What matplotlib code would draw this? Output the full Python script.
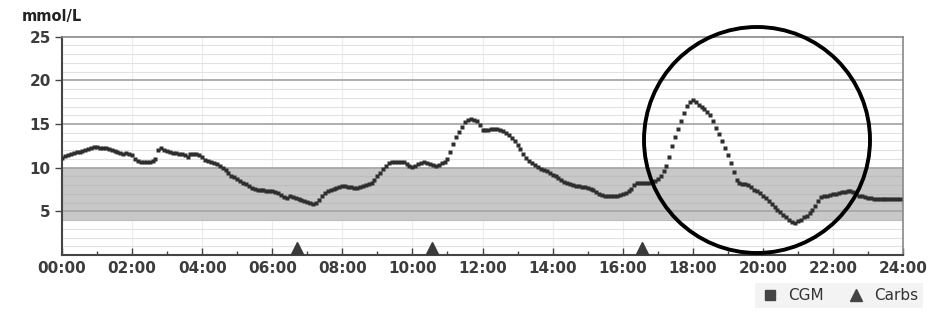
import matplotlib
matplotlib.use("Agg")
import matplotlib.pyplot as plt
import numpy as np
from matplotlib.patches import Ellipse
from matplotlib.lines import Line2D

# CGM readings every 5 minutes, one row per hour (mmol/L)
cgm_by_hour = [
    [11.1, 11.3, 11.4, 11.6, 11.7, 11.8, 11.8, 11.9, 12.0, 12.1, 12.3, 12.4],
    [12.4, 12.3, 12.3, 12.2, 12.1, 12.0, 11.9, 11.8, 11.7, 11.6, 11.7, 11.6],
    [11.4, 11.0, 10.8, 10.7, 10.7, 10.6, 10.7, 10.8, 11.0, 12.0, 12.2, 12.0],
    [11.9, 11.8, 11.7, 11.7, 11.6, 11.6, 11.5, 11.2, 11.6, 11.6, 11.6, 11.5],
    [11.2, 10.9, 10.8, 10.6, 10.5, 10.4, 10.2, 10.0, 9.7, 9.4, 9.1, 8.9],
    [8.7, 8.5, 8.3, 8.1, 7.9, 7.7, 7.6, 7.5, 7.4, 7.4, 7.3, 7.3],
    [7.3, 7.2, 7.1, 6.9, 6.6, 6.5, 6.7, 6.6, 6.5, 6.4, 6.3, 6.2],
    [6.1, 6.0, 5.8, 5.9, 6.3, 6.7, 7.1, 7.3, 7.5, 7.6, 7.7, 7.8],
    [7.9, 7.9, 7.8, 7.8, 7.7, 7.7, 7.8, 7.9, 8.0, 8.1, 8.3, 8.6],
    [9.0, 9.4, 9.8, 10.2, 10.5, 10.6, 10.7, 10.7, 10.7, 10.6, 10.4, 10.2],
    [10.1, 10.2, 10.4, 10.5, 10.6, 10.5, 10.4, 10.3, 10.2, 10.3, 10.5, 10.6],
    [11.0, 11.8, 12.7, 13.5, 14.1, 14.7, 15.2, 15.5, 15.6, 15.5, 15.3, 14.9],
    [14.3, 14.3, 14.3, 14.4, 14.4, 14.4, 14.3, 14.2, 14.0, 13.7, 13.4, 13.0],
    [12.6, 12.1, 11.6, 11.1, 10.8, 10.5, 10.3, 10.1, 9.9, 9.7, 9.6, 9.4],
    [9.2, 9.0, 8.8, 8.6, 8.4, 8.2, 8.1, 8.0, 7.9, 7.9, 7.8, 7.8],
    [7.7, 7.6, 7.4, 7.2, 7.0, 6.9, 6.8, 6.7, 6.7, 6.7, 6.8, 6.9],
    [7.0, 7.1, 7.3, 7.6, 8.0, 8.3, 8.3, 8.3, 8.3, 8.3, 8.4, 8.5],
    [8.7, 9.0, 9.6, 10.2, 11.2, 12.5, 13.5, 14.4, 15.3, 16.3, 17.1, 17.5],
    [17.7, 17.5, 17.2, 17.0, 16.7, 16.4, 16.0, 15.3, 14.6, 13.8, 13.0, 12.2],
    [11.4, 10.5, 9.5, 8.6, 8.2, 8.1, 8.1, 8.0, 7.8, 7.5, 7.3, 7.1],
    [6.8, 6.5, 6.2, 5.8, 5.5, 5.2, 4.9, 4.6, 4.3, 4.0, 3.8, 3.7],
    [3.9, 4.0, 4.3, 4.5, 4.8, 5.2, 5.6, 6.2, 6.6, 6.8, 6.8, 6.9],
    [7.0, 7.0, 7.1, 7.2, 7.2, 7.3, 7.3, 7.2, 7.0, 6.8, 6.7, 6.6],
    [6.5, 6.5, 6.4, 6.4, 6.4, 6.4, 6.4, 6.4, 6.4, 6.4, 6.4, 6.4],
]
carb_times = [6.7, 10.55, 16.55]        # hours
carb_level = [0.75, 0.75, 0.75]
target_low, target_high = 4, 10
x_tick_labels = ["00:00", "02:00", "04:00", "06:00", "08:00", "10:00", "12:00",
                 "14:00", "16:00", "18:00", "20:00", "22:00", "24:00"]
y_ticks = [5, 10, 15, 20, 25]

cgm = np.array(cgm_by_hour).ravel()
t = np.arange(len(cgm)) / 12.0

fig = plt.figure(figsize=(9.31, 3.16), dpi=100)
ax = fig.add_axes([62/931, 1-255/316, (903-62)/931, (255-36.7)/316])

ax.set_xlim(0, 24)
ax.set_ylim(0, 25)

# target band
ax.axhspan(target_low, target_high, color="#c8c8c8", zorder=0.5, lw=0)

# grid
for h in range(2, 24, 2):
    ax.axvline(h, color="#ececec", lw=0.8, zorder=0.3)
for v in range(1, 25):
    if v % 5 == 0:
        ax.axhline(v, color="#a8a8a8", lw=1.3, zorder=0.8)
    else:
        ax.axhline(v, color="#e2e2e2" if not (target_low <= v <= target_high) else "#bdbdbd",
                   lw=0.8, zorder=0.6)

ax.plot(t, cgm, ls="none", marker="s", ms=2.8, color="#2e2e2e", mec="none", zorder=3)
ax.plot(carb_times, carb_level, ls="none", marker="^", ms=8, color="#3a3a3a", zorder=3, clip_on=False)

ax.set_xticks(range(0, 25, 2))
ax.set_xticklabels(x_tick_labels)
ax.set_xticks(range(1, 24, 2), minor=True)
ax.set_yticks(y_ticks)
ax.set_yticklabels([str(v) for v in y_ticks])

ax.tick_params(axis="x", which="major", direction="in", length=5, width=1, color="#444",
               labelsize=11, labelcolor="#3c3c3c", pad=4)
ax.tick_params(axis="x", which="minor", direction="in", length=3, width=1, color="#444")
ax.tick_params(axis="y", which="major", direction="out", length=5, width=1, color="#444",
               labelsize=11, labelcolor="#3c3c3c", pad=3)
for lab in ax.get_xticklabels() + ax.get_yticklabels():
    lab.set_fontweight("bold")

for s in ["left", "bottom"]:
    ax.spines[s].set_color("#444")
    ax.spines[s].set_linewidth(1.5)
for s in ["right", "top"]:
    ax.spines[s].set_color("#888")
    ax.spines[s].set_linewidth(1.2)

fig.text(22/931, 1-17/316, "mmol/L", fontsize=10.5, fontweight="bold", color="#222",
         ha="left", va="center")

# annotation circle
circ = Ellipse((757/931, 1-140/316), 226/931, 226/316, transform=fig.transFigure,
               fill=False, ec="black", lw=2.8, zorder=10)
fig.patches.append(circ)

handles = [Line2D([], [], ls="none", marker="s", ms=7, color="#444"),
           Line2D([], [], ls="none", marker="^", ms=8, color="#444")]
leg = fig.legend(handles, ["CGM", "Carbs"], loc="lower right", bbox_to_anchor=(1.0, 0.0),
                 ncol=2, frameon=True, fontsize=11, handlelength=1.2, handletextpad=0.6,
                 columnspacing=1.5, borderpad=0.35, fancybox=False)
leg.get_frame().set_facecolor("#f0f0f0")
leg.get_frame().set_edgecolor("none")
for txt in leg.get_texts():
    txt.set_color("#333")

fig.savefig("out.png", dpi=100, facecolor="white")
